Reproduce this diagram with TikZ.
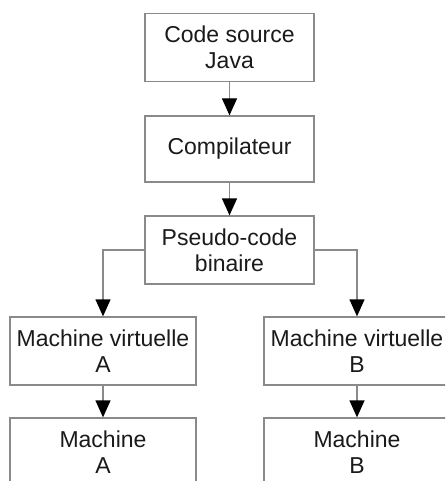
\documentclass[tikz,border=0pt]{standalone}
\usepackage{fontspec}
\setmainfont{Liberation Sans}
\usetikzlibrary{arrows.meta}
\definecolor{boxline}{HTML}{8A8A8A}
\definecolor{txt}{HTML}{1A1A1A}
\tikzset{
  box/.style={draw=boxline, line width=1.3pt, inner sep=0pt, align=center,
    text=txt, font=\fontsize{23}{26}\selectfont, minimum height=68pt},
  topbox/.style={box, minimum width=169pt},
  sidebox/.style={box, minimum width=186pt},
  conn/.style={draw=boxline, line width=1.3pt,
    -{Triangle[length=17pt,width=15pt,fill=black,color=black]}}
}
\begin{document}
\begin{tikzpicture}[x=1pt,y=-1pt]
\useasboundingbox (0,0) rectangle (445,481);
\clip (0,0) rectangle (445,481);
\fill[white] (0,0) rectangle (445,481);
\node[topbox] (src) at (229.5,47.5) {Code source\\Java};
\node[topbox, minimum height=66pt] (comp) at (229.5,149) {Compilateur};
\node[topbox] (pseudo) at (229.5,250) {Pseudo-code\\binaire};
\node[sidebox] (vma) at (103,351) {Machine virtuelle\\A};
\node[sidebox] (vmb) at (357,351) {Machine virtuelle\\B};
\node[sidebox] (ma) at (103,452) {Machine\\A};
\node[sidebox] (mb) at (357,452) {Machine\\B};
\draw[conn] (src) -- (comp);
\draw[conn] (comp) -- (pseudo);
\draw[conn] (pseudo.west) -| (vma.north);
\draw[conn] (pseudo.east) -| (vmb.north);
\draw[conn] (vma) -- (ma);
\draw[conn] (vmb) -- (mb);
\end{tikzpicture}
\end{document}
